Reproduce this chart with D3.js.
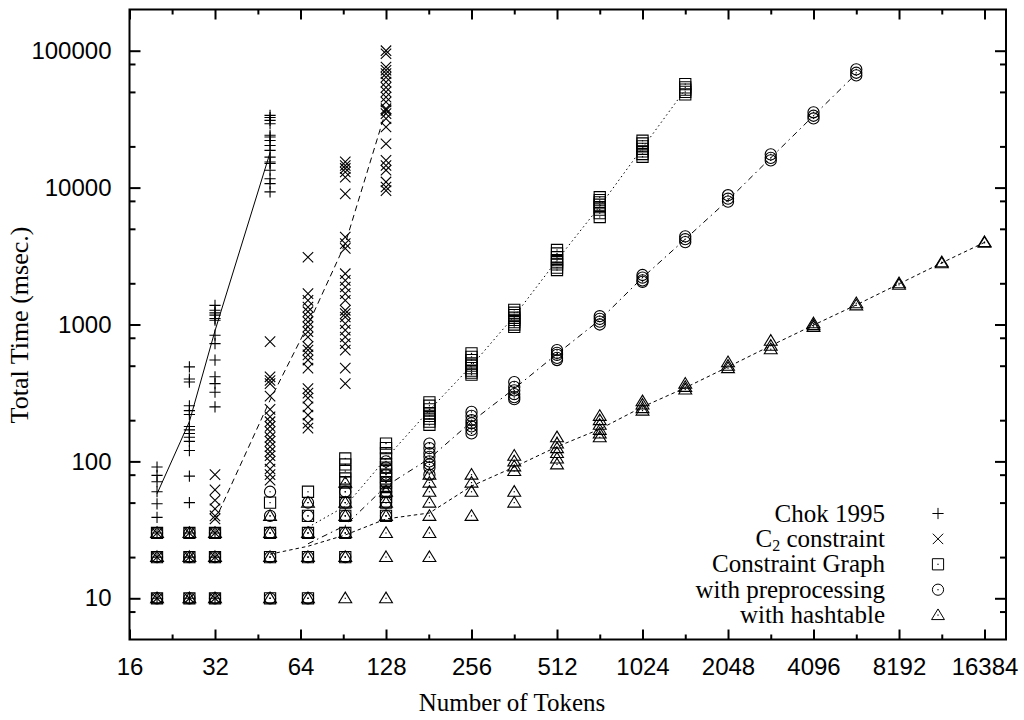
<!DOCTYPE html>
<html>
<head>
<meta charset="utf-8">
<title>Total Time vs Number of Tokens</title>
<script src="https://d3js.org/d3.v7.min.js"></script>
<style>
  body { margin: 0; background: #fff; }
  svg { display: block; }
</style>
</head>
<body>
<script>
// ---- data (msec per run, several runs per size) ----
const chokX = [20, 26, 32, 50];
const chokPts = [
  [91, 79, 71, 60, 49, 39, 30, 20, 10],
  [490, 400, 380, 255, 235, 220, 180, 170, 160, 150, 140, 120, 78, 50, 30, 20, 10],
  [1380, 1270, 1215, 1170, 1105, 1075, 835, 725, 550, 415, 370, 320, 250, 30, 20, 10],
  [33700, 32500, 31000, 29300, 24100, 23400, 22100, 20300, 18700, 16700, 15400, 15000, 13400, 11600, 10700, 9300]
];
const chokLineX = [20, 26, 32, 50];
const chokLine = [58, 195, 900, 18000];

const c2X = [20, 26, 32, 50, 68, 92, 128];
const c2Pts = [
  [30, 20, 10],
  [30, 20, 10],
  [80, 62, 52, 45, 40, 38, 30, 20, 10],
  [750, 415, 390, 370, 300, 240, 212, 195, 180, 165, 150, 140, 128, 118, 110, 100, 88, 80, 73],
  [3100, 1680, 1500, 1340, 1240, 1135, 1045, 960, 885, 810, 690, 650, 600, 550, 480, 340, 315, 290, 250, 218, 190, 175],
  [15400, 14500, 13800, 13000, 11900, 9000, 4350, 3900, 3600, 2350, 2100, 1880, 1680, 1500, 1270, 1200, 1135, 1015, 910, 810, 725, 650, 480, 370],
  [100000, 95000, 76000, 72000, 68000, 64000, 59000, 54000, 50000, 45800, 42200, 37700, 36700, 34700, 31900, 27700, 20900, 15800, 14500, 13400, 11000, 10100, 9500]
];
const c2LineX = [32, 50, 68, 92, 128];
const c2Line = [37, 280, 990, 3900, 36700];

const cgX = [20, 26, 32, 50, 68, 92, 128, 182, 256, 362, 512, 724, 1024, 1448];
const cgPts = [
  [30, 20, 10],
  [30, 20, 10],
  [30, 20, 10],
  [50, 30, 20, 10],
  [60, 40, 30, 20, 10],
  [105, 95, 85, 75, 70, 60, 50, 40, 30, 20],
  [135, 125, 115, 105, 95, 90, 85, 80, 75, 70, 65, 60, 55, 50, 40],
  [270, 255, 240, 225, 215, 205, 195, 185],
  [615, 580, 550, 520, 500, 480, 460, 445, 430],
  [1280, 1220, 1170, 1120, 1080, 1040, 1000, 960],
  [3500, 3300, 3100, 2950, 2850, 2750, 2600, 2500],
  [8500, 8100, 7800, 7500, 7200, 6900, 6500, 6100],
  [22000, 21000, 20000, 19200, 18400, 17600, 16800],
  [57000, 54000, 52000, 50000, 48000]
];
const cgLineX = [68, 92, 128, 182, 256, 362, 512, 724, 1024, 1448];
const cgLine = [33, 47, 105, 237, 500, 1150, 2950, 7300, 19500, 52000];

const ppX = [20, 26, 32, 50, 68, 92, 128, 182, 256, 362, 512, 724, 1024, 1448, 2048, 2896, 4096, 5793];
const ppPts = [
  [30, 20, 10],
  [30, 20, 10],
  [30, 20, 10],
  [60, 40, 30, 20, 10],
  [50, 40, 30, 20, 10],
  [60, 50, 40, 30, 20],
  [100, 90, 80, 70, 60, 50, 40],
  [135, 125, 115, 108, 100, 95, 90, 80],
  [230, 215, 200, 190, 180, 170, 160],
  [380, 350, 330, 310, 295, 285],
  [650, 620, 600, 570, 550],
  [1150, 1100, 1050, 1000],
  [2300, 2200, 2100, 2050],
  [4400, 4200, 4000],
  [8800, 8300, 7900],
  [17500, 16500, 15800],
  [35500, 33500, 32000],
  [73000, 69000, 66000]
];
const ppLineX = [68, 92, 128, 182, 256, 362, 512, 724, 1024, 1448, 2048, 2896, 4096, 5793];
const ppLine = [25, 34, 66, 105, 195, 340, 610, 1080, 2200, 4200, 8100, 16500, 33500, 68000];

const htX = [20, 26, 32, 50, 68, 92, 128, 182, 256, 362, 512, 724, 1024, 1448, 2048, 2896, 4096, 5793, 8192, 11585, 16384];
const htPts = [
  [30, 20, 10],
  [30, 20, 10],
  [30, 20, 10],
  [40, 30, 20, 10],
  [50, 30, 20, 10],
  [70, 50, 40, 30, 20, 10],
  [60, 50, 40, 30, 20, 10],
  [80, 70, 60, 50, 40, 30, 20],
  [80, 70, 60, 40],
  [110, 100, 92, 85, 60, 50],
  [150, 135, 125, 115, 105, 95],
  [215, 200, 185, 170, 160, 150],
  [275, 260, 245, 235],
  [370, 350, 335],
  [530, 500, 480],
  [760, 700, 660],
  [1020, 990, 960],
  [1430, 1380],
  [2000, 1950],
  [2850, 2800],
  [4000, 3950]
];
const htLineX = [50, 68, 92, 128, 182, 256, 362, 512, 724, 1024, 1448, 2048, 2896, 4096, 5793, 8192, 11585, 16384];
const htLine = [21, 24, 29, 38, 42, 66, 91, 128, 172, 250, 345, 490, 700, 990, 1390, 1980, 2820, 3980];

const seriesNames = ["Chok 1995", "C2 constraint", "Constraint Graph", "with preprocessing", "with hashtable"];

const xTicks = [16, 32, 64, 128, 256, 512, 1024, 2048, 4096, 8192, 16384];
const xMinorTicks = [22.6, 45.3, 90.5, 181, 362, 724, 1448, 2896, 5793, 11585];
const yTicks = [10, 100, 1000, 10000, 100000];
const yMinorTicks = [8, 20, 50, 80, 200, 500, 800, 2000, 5000, 8000, 20000, 50000, 80000];

// ---- layout ----
const W = 1024, H = 720;
const L = 129.5, R = 1006, T = 9.5, B = 639.5;
const sans = "'Liberation Sans', Arial, Helvetica, sans-serif";
const serif = "'Liberation Serif', 'Times New Roman', Times, serif";

const svg = d3.select("body").append("svg")
  .attr("width", W).attr("height", H);

const x = d3.scaleLog().base(2).domain([16, 19500]).range([L, R]);
const y = d3.scaleLog().domain([5, 200000]).range([B, T]);

// axes (ticks point inward, mirrored on top and right)
function styleAxis(g) {
  g.select(".domain").remove();
  g.selectAll(".tick line").attr("stroke", "#000").attr("stroke-width", 2);
  g.selectAll("text").attr("font-family", sans).attr("font-size", 24).attr("fill", "#000");
}

svg.append("g").attr("transform", `translate(0,${B})`)
  .call(d3.axisBottom(x).tickValues(xTicks).tickSize(-10).tickPadding(18).tickFormat(d3.format("d")))
  .call(styleAxis);
svg.append("g").attr("transform", `translate(0,${B})`)
  .call(d3.axisBottom(x).tickValues(xMinorTicks).tickSize(-5).tickFormat(""))
  .call(styleAxis);
svg.append("g").attr("transform", `translate(0,${T})`)
  .call(d3.axisTop(x).tickValues(xTicks).tickSize(-10).tickFormat(""))
  .call(styleAxis);
svg.append("g").attr("transform", `translate(0,${T})`)
  .call(d3.axisTop(x).tickValues(xMinorTicks).tickSize(-5).tickFormat(""))
  .call(styleAxis);

svg.append("g").attr("transform", `translate(${L},0)`)
  .call(d3.axisLeft(y).tickValues(yTicks).tickSize(-11).tickPadding(18).tickFormat(d3.format("d")))
  .call(styleAxis);
svg.append("g").attr("transform", `translate(${L},0)`)
  .call(d3.axisLeft(y).tickValues(yMinorTicks).tickSize(-6).tickFormat(""))
  .call(styleAxis);
svg.append("g").attr("transform", `translate(${R},0)`)
  .call(d3.axisRight(y).tickValues(yTicks).tickSize(-11).tickFormat(""))
  .call(styleAxis);
svg.append("g").attr("transform", `translate(${R},0)`)
  .call(d3.axisRight(y).tickValues(yMinorTicks).tickSize(-6).tickFormat(""))
  .call(styleAxis);

svg.append("rect")
  .attr("x", L).attr("y", T).attr("width", R - L).attr("height", B - T)
  .attr("fill", "none").attr("stroke", "#000").attr("stroke-width", 2);

// axis titles
svg.append("text")
  .attr("x", 512).attr("y", 711)
  .attr("text-anchor", "middle")
  .attr("font-family", serif).attr("font-size", 25)
  .text("Number of Tokens");
svg.append("text")
  .attr("transform", "translate(28,325) rotate(-90)")
  .attr("text-anchor", "middle")
  .attr("font-family", serif).attr("font-size", 26)
  .text("Total Time (msec.)");

// ---- markers ----
const shapes = [
  s => `M${-s},0H${s}M0,${-s}V${s}`,
  s => `M${-s},${-s}L${s},${s}M${-s},${s}L${s},${-s}`,
  s => `M${-s},${-s}H${s}V${s}H${-s}Z`,
  s => `M${s},0A${s},${s} 0 1,1 ${-s},0A${s},${s} 0 1,1 ${s},0Z`,
  s => `M0,${-s * 1.1}L${s * 1.15},${s * 0.8}H${-s * 1.15}Z`
];
const markerSize = [5.6, 5.2, 5.6, 5.6, 5.6];
const hasDot = [false, false, true, true, true];
const dashes = [null, "6,4", "1.5,3", "6,4,1.5,4", "3.5,3"];

const series = [
  { xs: chokX, pts: chokPts, lx: chokLineX, ly: chokLine },
  { xs: c2X, pts: c2Pts, lx: c2LineX, ly: c2Line },
  { xs: cgX, pts: cgPts, lx: cgLineX, ly: cgLine },
  { xs: ppX, pts: ppPts, lx: ppLineX, ly: ppLine },
  { xs: htX, pts: htPts, lx: htLineX, ly: htLine }
];

const line = d3.line().x(d => x(d[0])).y(d => y(d[1]));

series.forEach((s, i) => {
  const flat = [];
  s.xs.forEach((xv, j) => s.pts[j].forEach(v => flat.push([xv, v])));

  const g = svg.append("g");
  const m = g.selectAll("g.pt").data(flat).enter().append("g")
    .attr("transform", d => `translate(${x(d[0])},${y(d[1])})`);
  m.append("path")
    .attr("d", shapes[i](markerSize[i]))
    .attr("fill", "none").attr("stroke", "#000").attr("stroke-width", 1.1);
  if (hasDot[i]) {
    m.append("rect").attr("x", -0.6).attr("y", -0.6).attr("width", 1.2).attr("height", 1.2).attr("fill", "#000");
  }

  svg.append("path")
    .datum(s.lx.map((xv, j) => [xv, s.ly[j]]))
    .attr("d", line)
    .attr("fill", "none").attr("stroke", "#000").attr("stroke-width", 1)
    .attr("stroke-dasharray", dashes[i]);
});

// ---- legend ----
const legend = svg.append("g");
seriesNames.forEach((name, i) => {
  const by = 521.5 + i * 25.4;
  const t = legend.append("text")
    .attr("x", 885).attr("y", by)
    .attr("text-anchor", "end")
    .attr("font-family", serif).attr("font-size", 25);
  if (name.startsWith("C2 ")) {
    t.append("tspan").text("C");
    t.append("tspan").attr("font-size", 16).attr("dy", 4).text("2");
    t.append("tspan").attr("dy", -4).text(name.slice(2));
  } else {
    t.text(name);
  }
  const mg = legend.append("g").attr("transform", `translate(938,${by - 8})`);
  mg.append("path").attr("d", shapes[i](markerSize[i]))
    .attr("fill", "none").attr("stroke", "#000").attr("stroke-width", 1);
  if (hasDot[i]) {
    mg.append("rect").attr("x", -0.6).attr("y", -0.6).attr("width", 1.2).attr("height", 1.2).attr("fill", "#000");
  }
});
</script>
</body>
</html>
